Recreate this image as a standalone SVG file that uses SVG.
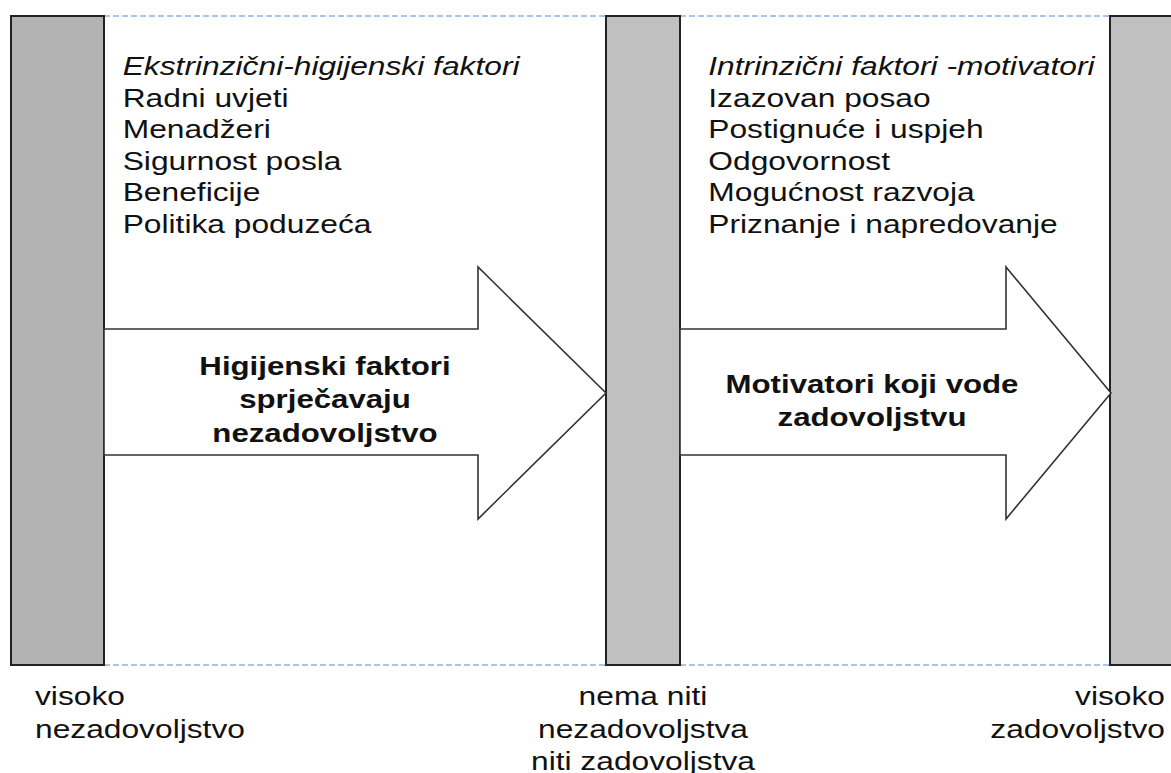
<svg xmlns="http://www.w3.org/2000/svg" width="1171" height="773" viewBox="0 0 1171 773">
  <style>
    .bg { fill: #ffffff; }
    .bar { stroke: #222222; stroke-width: 2; }
    .bar-l { fill: #b3b3b3; }
    .bar-m { fill: #c0c0c0; }
    .guide { stroke: #8db3e8; stroke-width: 1.6; stroke-dasharray: 6 3; fill: none; }
    .arrow { fill: #ffffff; stroke: #333333; stroke-width: 1.6; stroke-linejoin: miter; }
    .t { font-family: "Liberation Sans", Arial, sans-serif; font-size: 25px; fill: #111111; }
    .it { font-style: italic; }
    .b { font-family: "Liberation Sans", Arial, sans-serif; font-size: 26px; font-weight: bold; fill: #111111; text-anchor: middle; }
    .mid { text-anchor: middle; }
    .end { text-anchor: end; }
  </style>
  <rect class="bg" x="0" y="0" width="1171" height="773"/>

  <g id="guides">
    <line class="guide" x1="104" y1="16" x2="606" y2="16"/>
    <line class="guide" x1="680" y1="16" x2="1110" y2="16"/>
    <line class="guide" x1="104" y1="665" x2="606" y2="665"/>
    <line class="guide" x1="680" y1="665" x2="1110" y2="665"/>
  </g>

  <g id="bar-left">
    <rect class="bar bar-l" x="11" y="16" width="93" height="649"/>
  </g>
  <g id="bar-middle">
    <rect class="bar bar-m" x="606" y="16" width="74" height="649"/>
  </g>
  <g id="bar-right">
    <rect class="bar bar-m" x="1110" y="16" width="70" height="649"/>
  </g>

  <g id="list-extrinsic">
    <text class="t it" transform="translate(122.7,75) scale(1.27,1)">Ekstrinzični-higijenski faktori</text>
    <text class="t" transform="translate(122.7,106.6) scale(1.27,1)">Radni uvjeti</text>
    <text class="t" transform="translate(122.7,138.2) scale(1.27,1)">Menadžeri</text>
    <text class="t" transform="translate(122.7,169.8) scale(1.27,1)">Sigurnost posla</text>
    <text class="t" transform="translate(122.7,201.4) scale(1.27,1)">Beneficije</text>
    <text class="t" transform="translate(122.7,233) scale(1.27,1)">Politika poduzeća</text>
  </g>

  <g id="list-intrinsic">
    <text class="t it" transform="translate(708.3,75) scale(1.27,1)">Intrinzični faktori -motivatori</text>
    <text class="t" transform="translate(708.3,106.6) scale(1.27,1)">Izazovan posao</text>
    <text class="t" transform="translate(708.3,138.2) scale(1.27,1)">Postignuće i uspjeh</text>
    <text class="t" transform="translate(708.3,169.8) scale(1.27,1)">Odgovornost</text>
    <text class="t" transform="translate(708.3,201.4) scale(1.27,1)">Mogućnost razvoja</text>
    <text class="t" transform="translate(708.3,233) scale(1.27,1)">Priznanje i napredovanje</text>
  </g>

  <g id="connectors">
    <g id="arrow-hygiene">
      <polygon class="arrow" points="104,329 478,329 478,267 606,393 478,519 478,455 104,455"/>
      <text class="b" transform="translate(325,375) scale(1.2,1)">Higijenski faktori</text>
      <text class="b" transform="translate(325,408) scale(1.2,1)">sprječavaju</text>
      <text class="b" transform="translate(325,441.5) scale(1.2,1)">nezadovoljstvo</text>
    </g>
    <g id="arrow-motivators">
      <polygon class="arrow" points="680,329 1006,329 1006,267 1111,393 1006,519 1006,455 680,455"/>
      <text class="b" transform="translate(872,392.7) scale(1.2,1)">Motivatori koji vode</text>
      <text class="b" transform="translate(872,426) scale(1.2,1)">zadovoljstvu</text>
    </g>
  </g>

  <g id="label-left">
    <text class="t" transform="translate(35,705) scale(1.27,1)">visoko</text>
    <text class="t" transform="translate(35,738) scale(1.27,1)">nezadovoljstvo</text>
  </g>
  <g id="label-middle">
    <text class="t mid" transform="translate(643,705) scale(1.27,1)">nema niti</text>
    <text class="t mid" transform="translate(643,738) scale(1.27,1)">nezadovoljstva</text>
    <text class="t mid" transform="translate(643,770) scale(1.27,1)">niti zadovoljstva</text>
  </g>
  <g id="label-right">
    <text class="t end" transform="translate(1165,705) scale(1.27,1)">visoko</text>
    <text class="t end" transform="translate(1165,738) scale(1.27,1)">zadovoljstvo</text>
  </g>
</svg>
